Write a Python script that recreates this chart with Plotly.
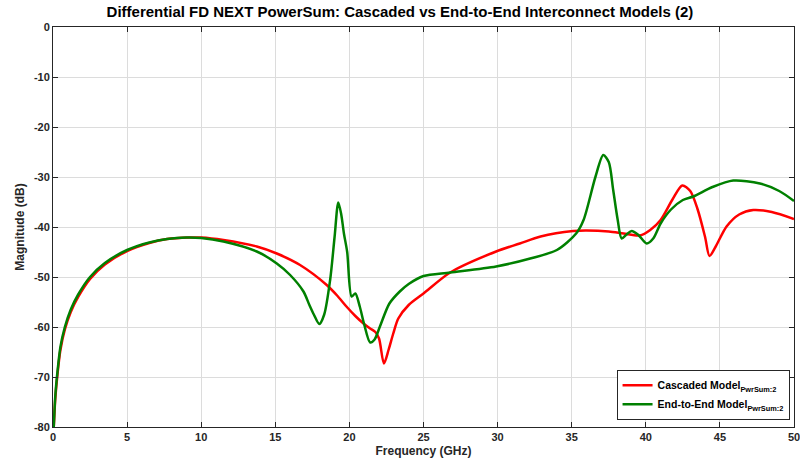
import plotly.graph_objects as go

# Cascaded model
casc_f = [0.0, 0.05, 0.15, 0.3, 0.5, 0.8, 1.2, 1.7, 2.5, 3.5, 5.0, 6.5, 7.7, 9.2, 10.0, 11.5, 13.75, 15.1,
          16.67, 18.47, 19.2, 19.8, 20.4, 20.95, 21.4, 21.75, 22.0, 22.33, 22.65, 22.96, 23.3, 24.0, 25.0, 26.8,
          29.9, 31.5, 32.9, 35.1, 36.0, 37.5, 38.5, 39.6, 40.3, 41.0, 41.8, 42.46, 43.0, 43.5, 44.0, 44.3, 44.7,
          45.45, 46.3, 47.25, 48.5, 50.0]
casc_db = [-82.0, -80.0, -74.5, -69.5, -64.6, -60.5, -57.0, -54.0, -50.4, -47.5, -44.8, -43.2, -42.4, -42.1, -42.1,
           -42.6, -43.9, -45.3, -47.6, -51.6, -53.8, -55.9, -57.8, -59.3, -60.3, -61.0, -62.3, -67.3, -64.5,
           -61.3, -58.3, -55.6, -53.3, -49.1, -44.9, -43.3, -41.9, -40.8, -40.7, -40.9, -41.3, -41.7, -40.6, -38.6,
           -34.5, -31.7, -32.8, -36.5, -42.0, -45.8, -44.0, -39.9, -37.5, -36.6, -37.0, -38.4]

# End-to-end model
e2e_f = [0.0, 0.05, 0.15, 0.3, 0.5, 0.8, 1.2, 1.7, 2.5, 3.5, 5.0, 6.5, 7.7, 9.0, 10.0, 11.5, 13.75, 15.1, 16.0,
         16.9, 17.3, 17.6, 17.97, 18.3, 18.7, 19.0, 19.25, 19.45, 19.63, 19.85, 20.15, 20.4, 20.7, 21.0, 21.4, 21.7,
         22.06, 22.7, 23.4, 24.0, 25.0, 26.8, 29.9, 32.2, 34.0, 35.3, 35.8, 36.6, 37.13, 37.5, 37.8,
         38.1, 38.37, 38.7, 39.05, 39.5, 40.06, 40.5, 41.0, 41.7, 42.5, 43.2, 44.5, 45.9, 47.7, 49.0, 50.0]
e2e_db = [-82.0, -80.0, -74.0, -69.0, -64.0, -60.0, -56.5, -53.5, -50.0, -47.2, -44.6, -43.1, -42.4, -42.1, -42.2,
          -42.9, -44.9, -47.3, -49.6, -52.9, -55.6, -57.5, -59.4, -57.5, -50.6, -42.0, -35.1, -37.5, -41.3, -45.0,
          -53.9, -53.3, -55.9, -59.5, -63.1, -62.5, -59.9, -55.3, -52.9, -51.4, -49.8, -49.1, -47.9, -46.3, -44.6,
          -41.3, -38.6, -30.0, -25.6, -27.0, -32.6, -38.5, -42.3, -41.5, -40.8, -41.6, -43.3, -42.3, -39.3,
          -36.5, -34.6, -33.9, -32.0, -30.7, -31.3, -32.8, -34.8]

x_ticks = [0, 5, 10, 15, 20, 25, 30, 35, 40, 45, 50]
y_ticks = [0, -10, -20, -30, -40, -50, -60, -70, -80]

series_names = ["<b>Cascaded Model</b><sub><b>PwrSum:2</b></sub>",
                "<b>End-to-End Model</b><sub><b>PwrSum:2</b></sub>"]

fig = go.Figure()
fig.add_trace(go.Scatter(x=casc_f, y=casc_db, mode="lines", name=series_names[0],
                         line=dict(color="#ff0000", width=2.5, shape="spline", smoothing=0.8)))
fig.add_trace(go.Scatter(x=e2e_f, y=e2e_db, mode="lines", name=series_names[1],
                         line=dict(color="#008000", width=2.5, shape="spline", smoothing=0.8)))

font_fam = "Liberation Sans, Arial, sans-serif"
axis_common = dict(showgrid=True, gridcolor="#dcdcdc", gridwidth=1, showline=True, linecolor="#262626",
                   linewidth=1, mirror="ticks", ticks="inside", ticklen=5, tickcolor="#262626", zeroline=False,
                   ticklabeloverflow="allow", automargin=False,
                   tickfont=dict(family=font_fam, size=11, color="#262626"))
fig.update_layout(
    width=800, height=468,
    margin=dict(l=53, r=6, t=27, b=41),
    paper_bgcolor="white", plot_bgcolor="white",
    title=dict(text="<b>Differential FD NEXT PowerSum: Cascaded vs End-to-End Interconnect Models (2)</b>",
               x=0.5, xanchor="center", y=0.975, yanchor="middle",
               font=dict(family=font_fam, size=15, color="black")),
    xaxis=dict(range=[0, 50], tickvals=x_ticks, ticktext=[f"<b>{v}</b>" for v in x_ticks],
               title=dict(text="<b>Frequency (GHz)</b>", standoff=4,
                          font=dict(family=font_fam, size=12, color="#262626")), **axis_common),
    yaxis=dict(range=[-80, 0], tickvals=y_ticks, ticktext=[f"<b>{v}</b>" for v in y_ticks],
               title=dict(text="<b>Magnitude (dB)</b>", standoff=6,
                          font=dict(family=font_fam, size=12, color="#262626")), **axis_common),
    legend=dict(x=0.994, y=0.018, xanchor="right", yanchor="bottom", bgcolor="white",
                bordercolor="#262626", borderwidth=1, font=dict(family=font_fam, size=10.5, color="black"),
                tracegroupgap=0, itemwidth=30, traceorder="normal"),
    showlegend=True,
)

fig.write_html("out.html")
